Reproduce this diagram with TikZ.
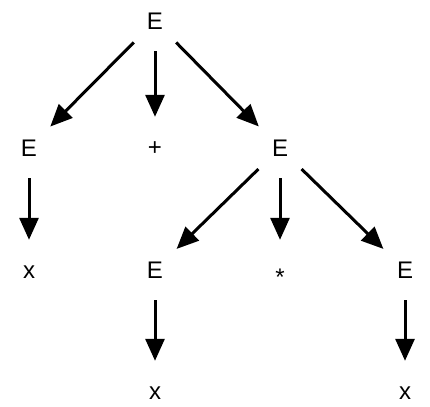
\documentclass[tikz,border=0pt]{standalone}
\usepackage{fontspec}
\setmainfont{Liberation Sans}
\usetikzlibrary{arrows.meta}
\begin{document}
\begin{tikzpicture}[x=1pt, y=-1pt,
    sym/.style={circle, minimum size=60pt, inner sep=0pt,
        font=\fontsize{24}{27}\selectfont, text height=17pt, text depth=0pt},
    edge/.style={line width=3pt, -{Triangle[length=22pt, width=19pt]}}]
    \useasboundingbox (0,0) rectangle (430,406);
    % root
    \node[sym] (E0) at (155, 21) {E};
    % level 1
    \node[sym] (E1) at (29, 148) {E};
    \node[sym] (plus) at (155, 147) {+};
    \node[sym] (E2) at (280, 148) {E};
    % level 2
    \node[sym] (x1) at (29, 270) {x};
    \node[sym] (E3) at (155, 270) {E};
    \node[sym] (times) at (280, 270) {\raisebox{-0.3em}{*}};
    \node[sym] (E4) at (405, 270) {E};
    % level 3
    \node[sym] (x2) at (155, 391) {x};
    \node[sym] (x3) at (405, 391) {x};
    \draw[edge] (E0) -- (E1);
    \draw[edge] (E0) -- (plus);
    \draw[edge] (E0) -- (E2);
    \draw[edge] (E1) -- (x1);
    \draw[edge] (E2) -- (E3);
    \draw[edge] (E2) -- (times);
    \draw[edge] (E2) -- (E4);
    \draw[edge] (E3) -- (x2);
    \draw[edge] (E4) -- (x3);
\end{tikzpicture}
\end{document}
